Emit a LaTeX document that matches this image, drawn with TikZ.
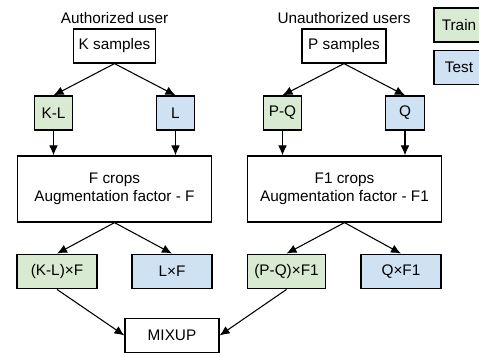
\documentclass[tikz,border=0pt]{standalone}
\usepackage{fontspec}
\setmainfont{Liberation Sans}
\usetikzlibrary{arrows.meta}
\definecolor{trainclr}{HTML}{D9EAD3}
\definecolor{testclr}{HTML}{CFE2F3}
\tikzset{
	box/.style={draw, line width=0.9pt, inner sep=0pt, minimum height=25.5pt, align=center},
	trainbox/.style={box, fill=trainclr},
	testbox/.style={box, fill=testclr},
}
\begin{document}
\begin{tikzpicture}[x=0.75pt, y=-0.75pt, >={Latex[length=7.5pt,width=6.5pt]}, line width=0.8pt, font=\fontsize{11.5}{13.5}\selectfont]
				\useasboundingbox (0,0) rectangle (479,355);
				\clip (0,0) rectangle (479,355);
				% authorized user
				\node (auth) at (114.5,18) {Authorized user};
				\node[box, minimum width=62pt] (ks) at (114.5,46) {K samples};
				\node[trainbox, minimum width=29pt] (kl) at (53.5,113) {K-L};
				\node[testbox, minimum width=29pt] (l) at (175.5,113) {L};
				\node[box, minimum width=146pt, minimum height=49.5pt] (fcrops) at (114.5,189) {F crops\\Augmentation factor - F};
				\node[trainbox, minimum width=60pt, minimum height=26pt] (klf) at (57,271.5) {(K-L)×F};
				\node[testbox, minimum width=60pt, minimum height=26pt] (lf) at (172,271.5) {L×F};
				% unauthorized users
				\node (unauth) at (344,18) {Unauthorized users};
				\node[box, minimum width=63pt] (ps) at (344,46) {P samples};
				\node[trainbox, minimum width=29pt] (pq) at (282.5,113) {P-Q};
				\node[testbox, minimum width=29pt] (q) at (405,113) {Q};
				\node[box, minimum width=146pt, minimum height=49.5pt] (f1crops) at (344.5,189) {F1 crops\\Augmentation factor - F1};
				\node[trainbox, minimum width=59pt, minimum height=26pt] (pqf) at (286.5,271.5) {(P-Q)×F1};
				\node[testbox, minimum width=60pt, minimum height=26pt] (qf) at (401,271.5) {Q×F1};
				\node[box, minimum width=70.5pt, minimum height=26pt] (mixup) at (172,335.5) {MIXUP};
				% legend
				\node[trainbox, minimum width=37.5pt] (train) at (459,25) {Train};
				\node[testbox, minimum width=37.5pt] (test) at (459,67.5) {Test};
				% arrows
				\draw[->] (ks.south) -- (kl.north);
				\draw[->] (ks.south) -- (l.north);
				\draw[->] (kl.south) -- (kl.south |- fcrops.north);
				\draw[->] (l.south) -- (l.south |- fcrops.north);
				\draw[->] (fcrops.south) -- (klf.north);
				\draw[->] (fcrops.south) -- (lf.north);
				\draw[->] (ps.south) -- (pq.north);
				\draw[->] (ps.south) -- (q.north);
				\draw[->] (pq.south) -- (pq.south |- f1crops.north);
				\draw[->] (q.south) -- (q.south |- f1crops.north);
				\draw[->] (f1crops.south) -- (pqf.north);
				\draw[->] (f1crops.south) -- (qf.north);
				\draw[->] (klf.south) -- (mixup.west);
				\draw[->] (pqf.south) -- (mixup.east);
			\end{tikzpicture}
\end{document}
